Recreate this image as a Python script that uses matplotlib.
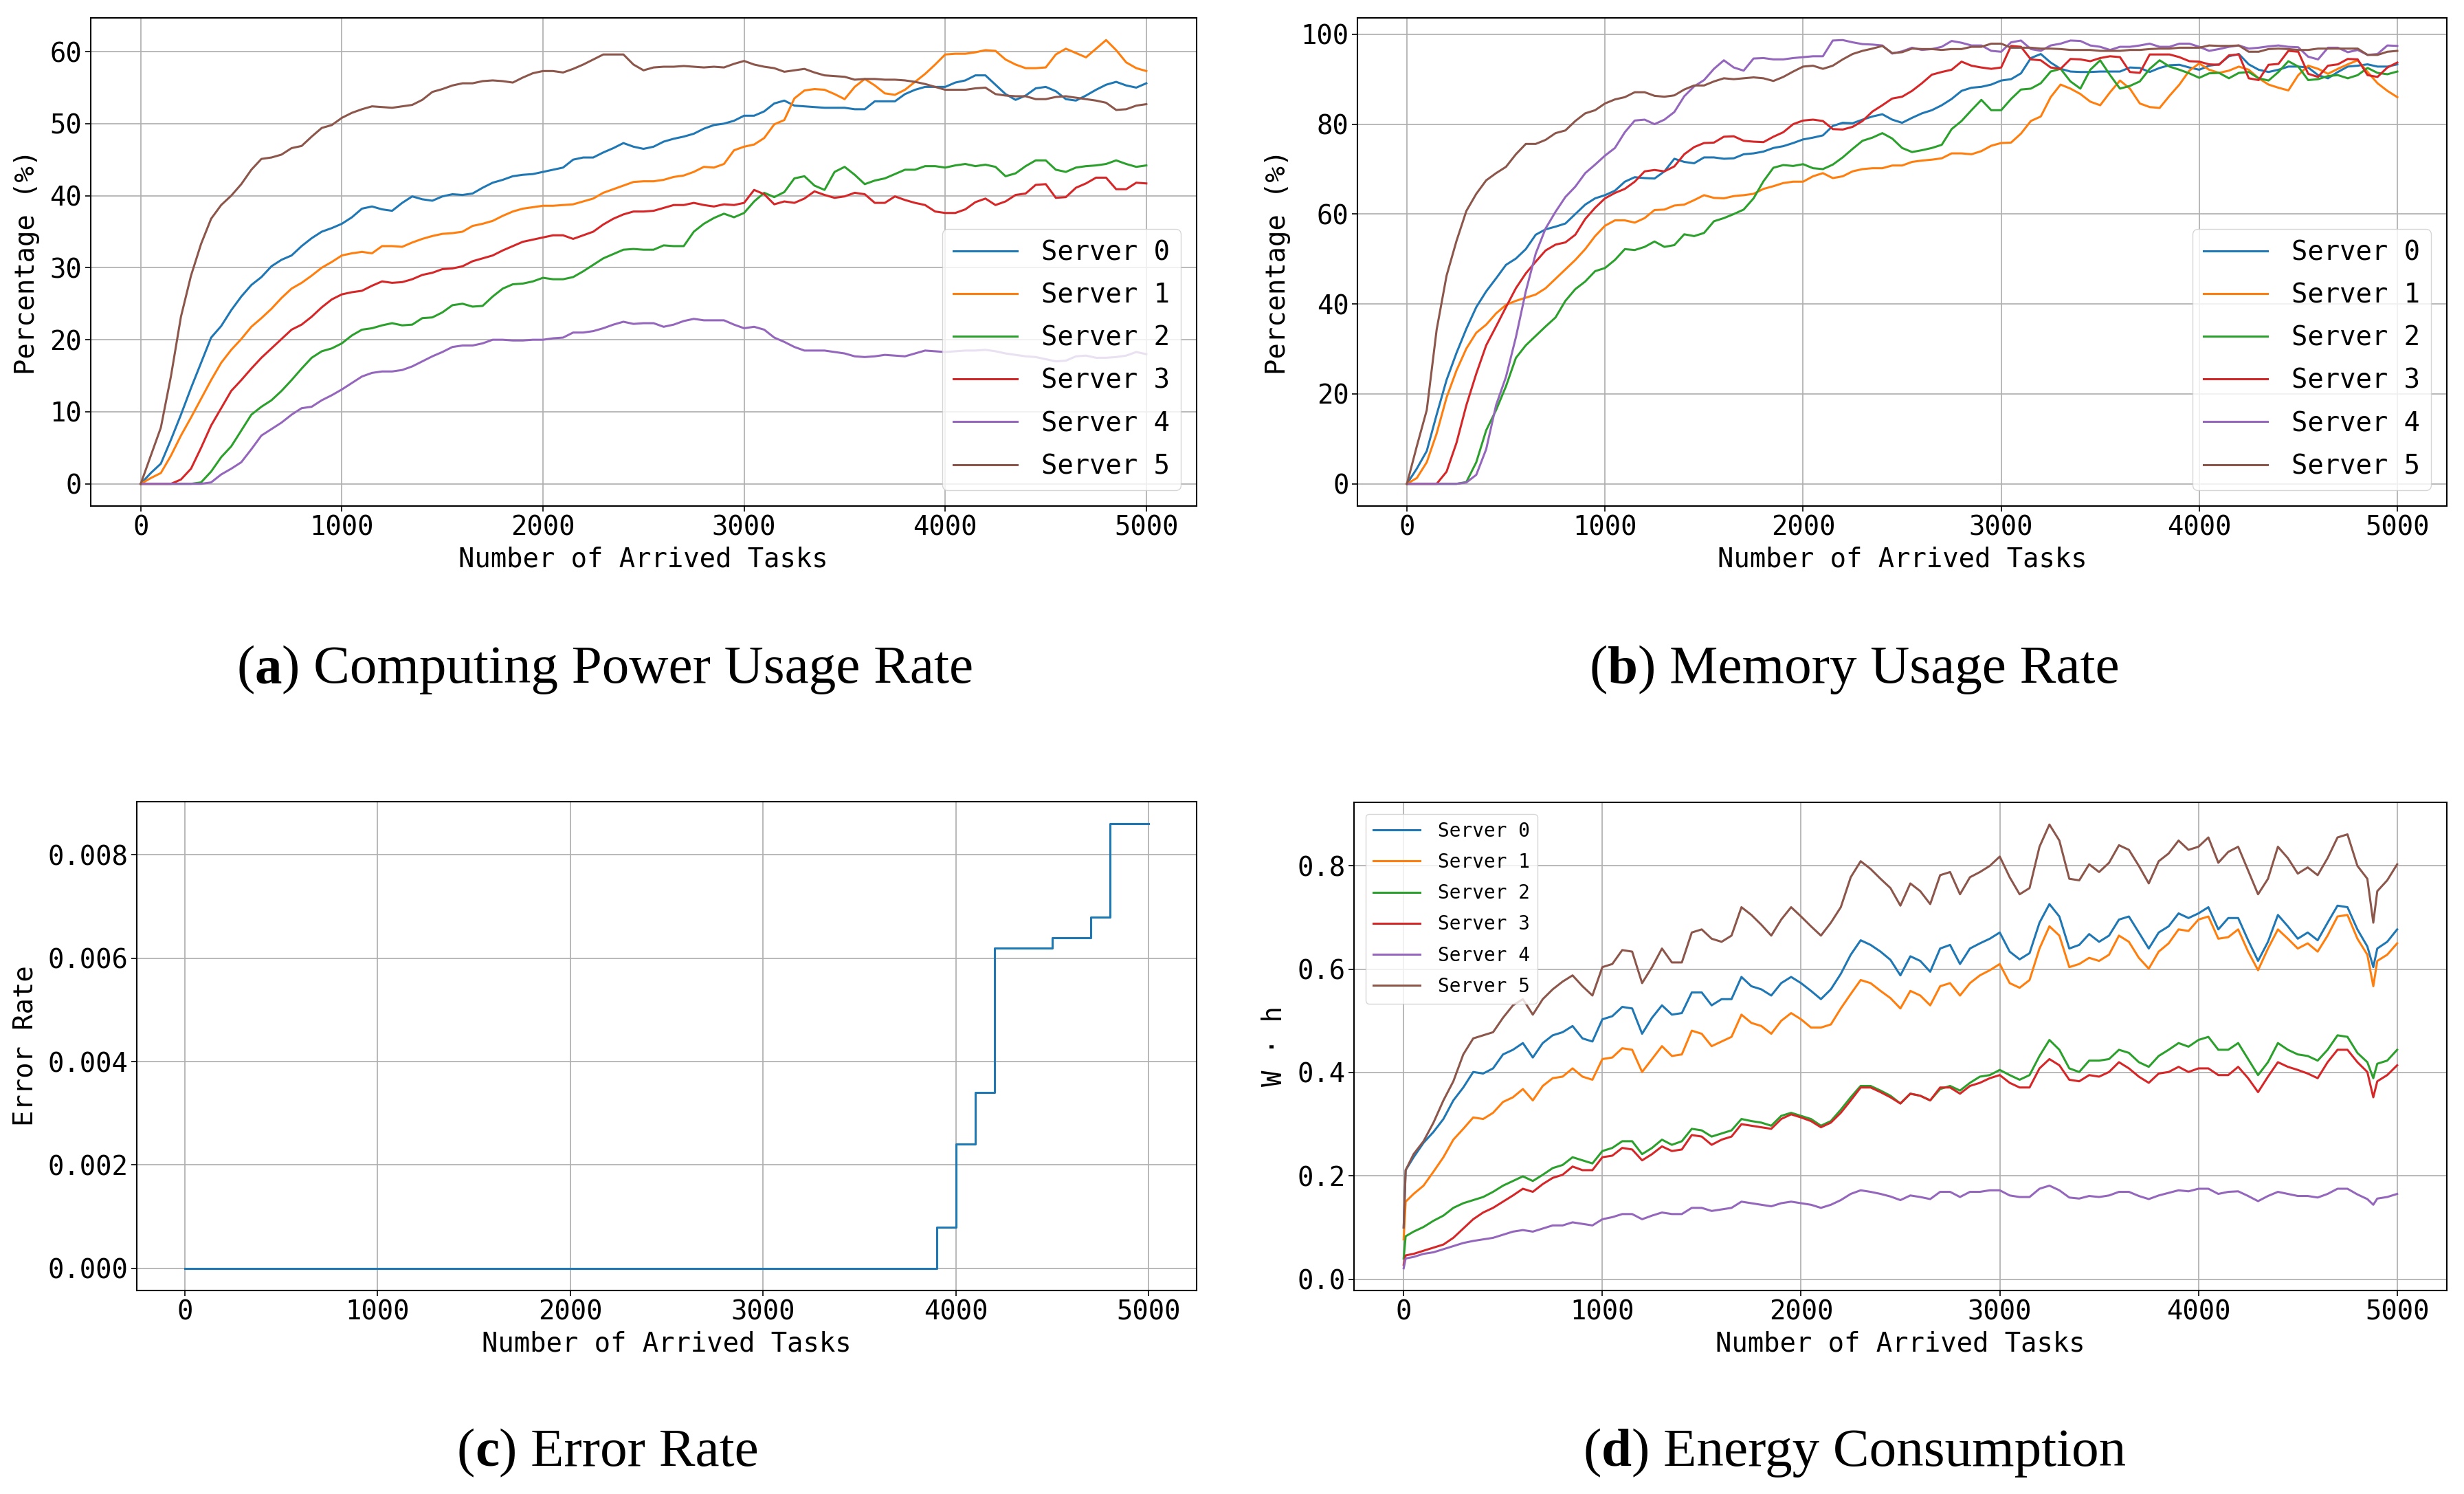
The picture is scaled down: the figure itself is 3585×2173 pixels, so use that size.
import numpy as np
import matplotlib
matplotlib.use('Agg')
import matplotlib.pyplot as plt

# ---------------- data ----------------
tasks = np.arange(0, 5001, 50)  # 101 sample points
servers = ['Server 0', 'Server 1', 'Server 2', 'Server 3', 'Server 4', 'Server 5']

cpu_s0 = [0, 1.5, 2.8, 6.1, 9.6, 13.3, 16.8, 20.3, 21.9, 24.1,
          26.0, 27.6, 28.7, 30.2, 31.1, 31.7, 33.0, 34.1, 35.0, 35.5,
          36.1, 37.0, 38.2, 38.5, 38.1, 37.9, 39.0, 39.9, 39.5, 39.3,
          39.9, 40.2, 40.1, 40.3, 41.1, 41.8, 42.2, 42.7, 42.9, 43.0,
          43.3, 43.6, 43.9, 45.0, 45.3, 45.3, 46.0, 46.6, 47.3, 46.8,
          46.5, 46.8, 47.5, 47.9, 48.2, 48.6, 49.3, 49.8, 50.0, 50.4,
          51.1, 51.1, 51.7, 52.8, 53.2, 52.5, 52.4, 52.3, 52.2, 52.2,
          52.2, 52.0, 52.0, 53.1, 53.1, 53.1, 54.1, 54.7, 55.1, 55.1,
          55.1, 55.7, 56.0, 56.7, 56.7, 55.4, 54.1, 53.3, 53.9, 54.9,
          55.1, 54.5, 53.4, 53.2, 53.9, 54.7, 55.4, 55.8, 55.3, 55.0,
          55.6]
cpu_s1 = [0, 0.8, 1.5, 3.9, 6.7, 9.2, 11.8, 14.4, 16.8, 18.6,
          20.1, 21.8, 23.0, 24.3, 25.8, 27.1, 27.9, 28.9, 30.0, 30.8,
          31.7, 32.0, 32.2, 32.0, 33.0, 33.0, 32.9, 33.5, 34.0, 34.4,
          34.7, 34.8, 35.0, 35.8, 36.1, 36.5, 37.2, 37.8, 38.2, 38.4,
          38.6, 38.6, 38.7, 38.8, 39.2, 39.6, 40.4, 40.9, 41.4, 41.9,
          42.0, 42.0, 42.2, 42.6, 42.8, 43.3, 44.0, 43.9, 44.4, 46.3,
          46.8, 47.1, 48.0, 49.9, 50.5, 53.5, 54.6, 54.8, 54.7, 54.1,
          53.4, 55.1, 56.2, 55.3, 54.2, 54.0, 54.7, 55.8, 56.9, 58.2,
          59.6, 59.7, 59.7, 59.9, 60.2, 60.1, 58.9, 58.2, 57.7, 57.7,
          57.8, 59.6, 60.4, 59.8, 59.2, 60.4, 61.6, 60.2, 58.5, 57.7,
          57.3]
cpu_s2 = [0, 0, 0, 0, 0, 0, 0.2, 1.7, 3.7, 5.2,
          7.4, 9.6, 10.7, 11.6, 12.9, 14.4, 16.0, 17.5, 18.4, 18.8,
          19.5, 20.6, 21.4, 21.6, 22.0, 22.3, 22.0, 22.1, 23.0, 23.1,
          23.8, 24.8, 25.0, 24.6, 24.7, 26.0, 27.1, 27.7, 27.8, 28.1,
          28.6, 28.4, 28.4, 28.7, 29.5, 30.4, 31.3, 31.9, 32.5, 32.6,
          32.5, 32.5, 33.1, 33.0, 33.0, 35.0, 36.1, 36.9, 37.5, 37.0,
          37.6, 39.2, 40.4, 39.8, 40.5, 42.4, 42.7, 41.4, 40.8, 43.3,
          44.0, 42.9, 41.6, 42.1, 42.4, 43.0, 43.6, 43.6, 44.1, 44.1,
          43.9, 44.2, 44.4, 44.1, 44.3, 44.0, 42.7, 43.1, 44.1, 44.9,
          44.9, 43.6, 43.3, 43.9, 44.1, 44.2, 44.4, 44.9, 44.4, 44.0,
          44.2]
cpu_s3 = [0, 0, 0, 0, 0.6, 2.1, 5.0, 8.1, 10.5, 12.9,
          14.4, 16.0, 17.5, 18.8, 20.1, 21.4, 22.1, 23.2, 24.5, 25.6,
          26.3, 26.6, 26.8, 27.5, 28.1, 27.9, 28.0, 28.4, 29.0, 29.3,
          29.8, 29.9, 30.2, 30.9, 31.3, 31.7, 32.4, 33.0, 33.6, 33.9,
          34.2, 34.5, 34.5, 34.0, 34.5, 35.0, 36.0, 36.8, 37.4, 37.8,
          37.8, 37.9, 38.3, 38.7, 38.7, 39.0, 38.7, 38.5, 38.8, 38.7,
          39.0, 40.8, 40.2, 38.8, 39.2, 39.0, 39.6, 40.6, 40.1, 39.7,
          39.9, 40.4, 40.2, 39.0, 39.0, 39.9, 39.4, 39.0, 38.7, 37.8,
          37.6, 37.6, 38.1, 39.1, 39.6, 38.7, 39.2, 40.1, 40.3, 41.5,
          41.6, 39.7, 39.8, 41.1, 41.7, 42.5, 42.5, 40.9, 40.9, 41.8,
          41.7]
cpu_s4 = [0, 0, 0, 0, 0, 0, 0, 0.2, 1.3, 2.1,
          3.0, 4.8, 6.7, 7.6, 8.5, 9.6, 10.5, 10.7, 11.6, 12.3,
          13.1, 14.0, 14.9, 15.4, 15.6, 15.6, 15.8, 16.3, 17.0, 17.7,
          18.3, 19.0, 19.2, 19.2, 19.5, 20.0, 20.0, 19.9, 19.9, 20.0,
          20.0, 20.2, 20.3, 21.0, 21.0, 21.2, 21.6, 22.1, 22.5, 22.2,
          22.3, 22.3, 21.8, 22.1, 22.6, 22.9, 22.7, 22.7, 22.7, 22.1,
          21.6, 21.8, 21.4, 20.3, 19.7, 19.0, 18.5, 18.5, 18.5, 18.3,
          18.1, 17.7, 17.6, 17.7, 17.9, 17.8, 17.7, 18.1, 18.5, 18.4,
          18.3, 18.4, 18.5, 18.5, 18.6, 18.4, 18.1, 17.9, 17.7, 17.6,
          17.3, 17.0, 17.1, 17.7, 17.8, 17.5, 17.5, 17.6, 17.8, 18.3,
          18.0]
cpu_s5 = [0, 3.9, 7.8, 14.9, 23.2, 28.9, 33.3, 36.8, 38.7, 40.0,
          41.6, 43.6, 45.1, 45.3, 45.7, 46.6, 46.9, 48.2, 49.4, 49.8,
          50.8, 51.5, 52.0, 52.4, 52.3, 52.2, 52.4, 52.6, 53.3, 54.4,
          54.8, 55.3, 55.6, 55.6, 55.9, 56.0, 55.9, 55.7, 56.4, 57.0,
          57.3, 57.3, 57.1, 57.6, 58.2, 58.9, 59.6, 59.6, 59.6, 58.2,
          57.4, 57.8, 57.9, 57.9, 58.0, 57.9, 57.8, 57.9, 57.8, 58.3,
          58.7, 58.2, 57.9, 57.7, 57.2, 57.4, 57.6, 57.1, 56.7, 56.6,
          56.5, 56.1, 56.2, 56.2, 56.1, 56.1, 56.0, 55.8, 55.5, 55.1,
          54.7, 54.7, 54.7, 54.9, 55.0, 54.1, 53.9, 53.8, 53.8, 53.4,
          53.4, 53.7, 53.8, 53.6, 53.4, 53.2, 52.9, 51.9, 52.0, 52.5,
          52.7]

mem_s0 = [0, 3.4, 7.3, 15.4, 23.1, 29.1, 34.5, 39.3, 42.8, 45.7,
          48.7, 50.1, 52.2, 55.4, 56.6, 57.2, 57.9, 60.0, 62.1, 63.5,
          64.2, 65.2, 67.2, 68.2, 68.0, 67.9, 69.5, 72.3, 71.6, 71.3,
          72.6, 72.6, 72.3, 72.4, 73.3, 73.5, 73.9, 74.7, 75.1, 75.8,
          76.6, 77.0, 77.5, 79.6, 80.3, 80.2, 81.0, 81.7, 82.2, 81.0,
          80.3, 81.4, 82.4, 83.1, 84.2, 85.6, 87.4, 88.1, 88.3, 88.8,
          89.7, 90.0, 91.3, 94.7, 95.6, 93.7, 92.3, 91.7, 91.6, 91.6,
          91.7, 91.7, 91.7, 92.6, 92.5, 91.6, 92.5, 93.1, 93.2, 92.6,
          92.1, 93.0, 93.3, 95.1, 95.6, 93.3, 92.1, 91.6, 92.1, 92.8,
          92.8, 92.6, 90.9, 90.2, 91.6, 92.8, 93.0, 93.3, 92.8, 92.8,
          93.3]
mem_s1 = [0, 1.3, 4.8, 11.2, 19.2, 25.2, 30.1, 33.6, 35.4, 37.9,
          39.8, 40.7, 41.4, 42.1, 43.5, 45.6, 47.7, 49.8, 52.2, 55.1,
          57.4, 58.6, 58.6, 58.1, 59.1, 60.9, 61.0, 61.9, 62.1, 63.1,
          64.2, 63.6, 63.5, 64.0, 64.2, 64.5, 65.6, 66.2, 66.9, 67.2,
          67.2, 68.4, 69.1, 68.0, 68.4, 69.5, 70.0, 70.2, 70.2, 70.8,
          70.8, 71.6, 71.9, 72.1, 72.4, 73.5, 73.5, 73.3, 74.0, 75.2,
          75.8, 75.9, 77.9, 80.7, 81.7, 86.0, 88.8, 87.9, 86.7, 85.0,
          84.2, 87.1, 89.7, 87.9, 84.6, 83.8, 83.6, 86.3, 88.8, 91.9,
          93.5, 92.1, 91.4, 91.9, 92.8, 92.1, 90.2, 88.8, 88.1, 87.5,
          90.9, 93.0, 92.3, 91.2, 92.3, 93.3, 94.2, 91.6, 89.1, 87.4,
          86.0]
mem_s2 = [0, 0, 0, 0, 0, 0, 0.4, 4.8, 11.9, 16.4,
          21.7, 28.0, 30.8, 32.9, 35.0, 37.0, 40.7, 43.3, 45.0, 47.3,
          48.0, 49.8, 52.2, 52.0, 52.7, 53.9, 52.7, 53.1, 55.5, 55.1,
          55.8, 58.4, 59.1, 60.0, 61.0, 63.5, 67.3, 70.3, 70.9, 70.7,
          71.1, 70.2, 70.0, 71.0, 72.6, 74.5, 76.3, 77.0, 78.0, 76.8,
          74.7, 73.8, 74.2, 74.7, 75.4, 78.9, 80.7, 83.1, 85.4, 83.1,
          83.1, 85.6, 87.7, 87.9, 89.1, 91.7, 92.3, 89.5, 87.9, 92.1,
          94.2, 90.9, 87.9, 88.5, 89.5, 92.3, 94.2, 92.8, 92.1, 91.3,
          90.3, 91.3, 91.4, 90.2, 91.4, 91.6, 90.2, 89.7, 91.6, 94.0,
          92.8, 89.8, 90.0, 90.7, 90.9, 90.2, 90.9, 92.5, 91.4, 91.1,
          91.7]
mem_s3 = [0, 0, 0, 0, 2.7, 9.1, 17.5, 24.5, 30.8, 35.0,
          39.3, 43.5, 46.8, 49.4, 51.9, 53.2, 53.7, 55.4, 58.9, 61.4,
          63.5, 64.7, 65.6, 67.2, 69.5, 69.8, 69.5, 70.6, 73.3, 74.9,
          75.8, 75.9, 77.2, 77.3, 76.3, 76.1, 76.0, 77.2, 78.2, 80.0,
          80.8, 81.0, 80.7, 78.9, 78.8, 79.4, 80.7, 82.8, 84.2, 85.7,
          86.1, 87.4, 89.1, 91.0, 91.6, 92.1, 93.9, 93.0, 92.6, 92.3,
          92.6, 97.4, 97.2, 94.4, 94.2, 92.6, 92.3, 94.5, 94.4, 94.0,
          94.7, 95.1, 94.9, 91.6, 91.4, 95.5, 95.5, 95.5, 94.9, 94.0,
          93.9, 93.3, 93.2, 95.3, 95.5, 90.2, 89.8, 93.2, 93.4, 96.3,
          96.1, 91.2, 90.5, 93.0, 93.3, 94.5, 94.4, 90.9, 90.5, 92.6,
          93.7]
mem_s4 = [0, 0, 0, 0, 0, 0, 0.3, 2.0, 7.7, 17.5,
          23.8, 32.6, 42.8, 51.2, 56.8, 60.5, 63.8, 66.1, 69.1, 71.0,
          73.0, 74.7, 78.2, 80.8, 81.0, 80.0, 81.0, 82.7, 86.2, 88.4,
          89.8, 92.3, 94.2, 92.6, 91.9, 94.6, 94.7, 94.4, 94.4, 94.7,
          94.9, 95.1, 95.1, 98.6, 98.7, 98.2, 97.8, 97.7, 97.5, 95.7,
          96.2, 97.0, 96.5, 96.7, 97.2, 98.5, 98.1, 97.5, 97.5, 96.3,
          96.1, 98.2, 98.6, 96.7, 96.3, 97.5, 97.9, 98.6, 98.5, 97.5,
          97.2, 96.5, 97.2, 97.2, 97.5, 97.9, 97.2, 97.2, 97.9, 97.9,
          97.2, 96.3, 96.7, 97.2, 97.5, 96.8, 97.0, 97.3, 97.5, 97.2,
          97.1, 95.0, 94.4, 97.0, 97.0, 96.0, 96.5, 95.4, 95.6, 97.5,
          97.4]
mem_s5 = [0, 8.4, 16.4, 34.3, 46.3, 54.0, 60.7, 64.5, 67.5, 69.1,
          70.5, 73.3, 75.6, 75.6, 76.5, 78.0, 78.6, 80.7, 82.4, 83.1,
          84.6, 85.5, 86.0, 87.1, 87.1, 86.3, 86.1, 86.4, 87.7, 88.6,
          88.6, 89.5, 90.2, 90.0, 90.2, 90.4, 90.2, 89.6, 90.5, 91.7,
          92.8, 93.0, 92.3, 93.0, 94.4, 95.6, 96.3, 96.8, 97.4, 95.8,
          96.0, 96.8, 96.7, 96.7, 96.5, 96.7, 96.7, 97.2, 97.2, 97.9,
          97.9, 97.0, 97.0, 97.0, 96.8, 96.8, 96.7, 96.5, 96.5, 96.5,
          96.3, 96.3, 96.3, 96.5, 96.5, 96.7, 96.8, 96.8, 97.0, 97.0,
          97.0, 97.5, 97.4, 97.4, 97.5, 96.1, 96.1, 96.7, 96.8, 96.7,
          96.5, 96.5, 96.8, 96.8, 96.8, 96.8, 96.8, 95.4, 95.4, 96.1,
          96.3]

err_x = [0, 3900, 4000, 4100, 4200, 4500, 4700, 4800, 5000]
err_y = [0.0, 0.0008, 0.0024, 0.0034, 0.0062, 0.0064, 0.0068, 0.0086, 0.0086]

energy_x = [0, 10] + list(range(50, 4851, 50)) + [4880, 4900, 4950, 5000]
eng_s0 = [0.100, 0.211,
          0.236, 0.264, 0.285, 0.310, 0.346, 0.371, 0.401, 0.398, 0.408, 0.435,
          0.444, 0.457, 0.429, 0.457, 0.472, 0.478, 0.490, 0.466, 0.460, 0.503,
          0.509, 0.527, 0.524, 0.475, 0.506, 0.530, 0.512, 0.515, 0.555, 0.555,
          0.530, 0.542, 0.542, 0.585, 0.567, 0.561, 0.549, 0.573, 0.585, 0.573,
          0.558, 0.542, 0.561, 0.591, 0.628, 0.656, 0.647, 0.634, 0.618, 0.588,
          0.625, 0.616, 0.595, 0.640, 0.647, 0.610, 0.640, 0.650, 0.659, 0.671,
          0.634, 0.619, 0.631, 0.690, 0.726, 0.702, 0.640, 0.647, 0.668, 0.653,
          0.665, 0.696, 0.702, 0.671, 0.640, 0.671, 0.683, 0.708, 0.699, 0.708,
          0.720, 0.677, 0.699, 0.699, 0.656, 0.616, 0.653, 0.705, 0.683, 0.659,
          0.671, 0.656, 0.690, 0.723, 0.720, 0.677, 0.644,
          0.604, 0.640, 0.653, 0.677]
eng_s1 = [0.077, 0.150,
          0.165, 0.181, 0.208, 0.236, 0.270, 0.291, 0.313, 0.310, 0.322, 0.343,
          0.352, 0.368, 0.346, 0.374, 0.389, 0.392, 0.408, 0.392, 0.386, 0.426,
          0.429, 0.447, 0.444, 0.401, 0.426, 0.451, 0.432, 0.435, 0.481, 0.475,
          0.451, 0.460, 0.469, 0.512, 0.496, 0.490, 0.475, 0.500, 0.515, 0.503,
          0.487, 0.487, 0.493, 0.524, 0.552, 0.579, 0.573, 0.558, 0.544, 0.524,
          0.558, 0.549, 0.530, 0.567, 0.573, 0.549, 0.573, 0.588, 0.598, 0.610,
          0.573, 0.564, 0.579, 0.640, 0.683, 0.665, 0.604, 0.610, 0.622, 0.616,
          0.628, 0.665, 0.653, 0.622, 0.601, 0.634, 0.650, 0.677, 0.674, 0.696,
          0.702, 0.659, 0.662, 0.677, 0.634, 0.598, 0.640, 0.677, 0.659, 0.640,
          0.650, 0.634, 0.665, 0.702, 0.705, 0.659, 0.628,
          0.567, 0.616, 0.628, 0.650]
eng_s2 = [0.040, 0.083,
          0.092, 0.101, 0.113, 0.123, 0.138, 0.147, 0.153, 0.159, 0.169, 0.181,
          0.190, 0.199, 0.190, 0.202, 0.215, 0.221, 0.236, 0.230, 0.224, 0.248,
          0.254, 0.267, 0.267, 0.242, 0.254, 0.270, 0.260, 0.267, 0.291, 0.288,
          0.276, 0.282, 0.288, 0.310, 0.306, 0.303, 0.297, 0.316, 0.322, 0.316,
          0.310, 0.297, 0.306, 0.328, 0.352, 0.374, 0.374, 0.365, 0.355, 0.340,
          0.359, 0.355, 0.346, 0.368, 0.374, 0.365, 0.380, 0.392, 0.395, 0.405,
          0.395, 0.386, 0.395, 0.432, 0.463, 0.444, 0.408, 0.401, 0.423, 0.423,
          0.426, 0.444, 0.438, 0.420, 0.411, 0.432, 0.444, 0.457, 0.450, 0.463,
          0.469, 0.444, 0.444, 0.457, 0.426, 0.395, 0.420, 0.457, 0.444, 0.435,
          0.432, 0.423, 0.444, 0.472, 0.469, 0.438, 0.420,
          0.389, 0.417, 0.423, 0.444]
eng_s3 = [0.028, 0.046,
          0.049, 0.055, 0.061, 0.067, 0.080, 0.098, 0.116, 0.129, 0.138, 0.150,
          0.162, 0.175, 0.169, 0.184, 0.196, 0.202, 0.218, 0.211, 0.211, 0.236,
          0.239, 0.254, 0.251, 0.230, 0.242, 0.257, 0.248, 0.251, 0.279, 0.276,
          0.260, 0.270, 0.276, 0.300, 0.297, 0.294, 0.291, 0.310, 0.319, 0.313,
          0.306, 0.294, 0.303, 0.322, 0.346, 0.371, 0.371, 0.362, 0.352, 0.340,
          0.359, 0.355, 0.346, 0.371, 0.371, 0.359, 0.374, 0.380, 0.389, 0.395,
          0.380, 0.371, 0.371, 0.408, 0.426, 0.414, 0.386, 0.383, 0.395, 0.392,
          0.401, 0.420, 0.408, 0.392, 0.380, 0.398, 0.401, 0.411, 0.401, 0.408,
          0.408, 0.395, 0.395, 0.411, 0.389, 0.362, 0.392, 0.420, 0.411, 0.405,
          0.398, 0.389, 0.420, 0.444, 0.444, 0.420, 0.401,
          0.352, 0.383, 0.395, 0.414]
eng_s4 = [0.021, 0.040,
          0.043, 0.049, 0.052, 0.058, 0.064, 0.070, 0.074, 0.077, 0.080, 0.086,
          0.092, 0.095, 0.092, 0.098, 0.104, 0.104, 0.110, 0.107, 0.104, 0.116,
          0.120, 0.126, 0.126, 0.116, 0.123, 0.129, 0.126, 0.126, 0.138, 0.138,
          0.132, 0.135, 0.138, 0.150, 0.147, 0.144, 0.141, 0.147, 0.150, 0.147,
          0.144, 0.138, 0.144, 0.153, 0.165, 0.172, 0.169, 0.165, 0.160, 0.153,
          0.162, 0.159, 0.155, 0.169, 0.169, 0.159, 0.169, 0.169, 0.172, 0.172,
          0.162, 0.159, 0.159, 0.175, 0.181, 0.172, 0.158, 0.156, 0.161, 0.159,
          0.162, 0.169, 0.169, 0.161, 0.155, 0.162, 0.167, 0.172, 0.170, 0.175,
          0.175, 0.165, 0.169, 0.170, 0.161, 0.151, 0.161, 0.169, 0.165, 0.161,
          0.161, 0.158, 0.165, 0.175, 0.175, 0.164, 0.155,
          0.144, 0.156, 0.159, 0.165]
eng_s5 = [0.100, 0.211,
          0.242, 0.267, 0.303, 0.346, 0.383, 0.435, 0.466, 0.472, 0.478, 0.506,
          0.530, 0.542, 0.512, 0.542, 0.561, 0.576, 0.588, 0.567, 0.549, 0.604,
          0.610, 0.637, 0.634, 0.573, 0.604, 0.640, 0.613, 0.613, 0.671, 0.677,
          0.659, 0.653, 0.665, 0.720, 0.705, 0.686, 0.665, 0.696, 0.720, 0.702,
          0.683, 0.665, 0.690, 0.720, 0.778, 0.809, 0.794, 0.775, 0.757, 0.723,
          0.766, 0.751, 0.726, 0.782, 0.788, 0.745, 0.778, 0.788, 0.800, 0.818,
          0.778, 0.745, 0.757, 0.837, 0.880, 0.849, 0.775, 0.772, 0.803, 0.788,
          0.806, 0.840, 0.831, 0.800, 0.766, 0.809, 0.824, 0.849, 0.831, 0.837,
          0.855, 0.806, 0.827, 0.837, 0.791, 0.745, 0.775, 0.837, 0.815, 0.785,
          0.797, 0.782, 0.815, 0.855, 0.861, 0.800, 0.775,
          0.690, 0.751, 0.772, 0.803]

cpu = [cpu_s0, cpu_s1, cpu_s2, cpu_s3, cpu_s4, cpu_s5]
mem = [mem_s0, mem_s1, mem_s2, mem_s3, mem_s4, mem_s5]
eng = [eng_s0, eng_s1, eng_s2, eng_s3, eng_s4, eng_s5]

x_ticks = [0, 1000, 2000, 3000, 4000, 5000]
captions = [('a', 'Computing Power Usage Rate'), ('b', 'Memory Usage Rate'),
            ('c', 'Error Rate'), ('d', 'Energy Consumption')]

# ---------------- style ----------------
W, H, DPI = 3585, 2173, 100
plt.rcParams.update({
    'font.family': ['DejaVu Sans Mono'],
    'font.size': 28,
    'axes.linewidth': 1.5,
    'xtick.major.size': 5.5, 'ytick.major.size': 5.5,
    'xtick.major.width': 1.2, 'ytick.major.width': 1.2,
    'grid.linewidth': 1.25, 'grid.color': '#b0b0b0',
    'lines.linewidth': 2.2,
})
colors = ['#1f77b4', '#ff7f0e', '#2ca02c', '#d62728', '#9467bd', '#8c564b']

fig = plt.figure(figsize=(W / DPI, H / DPI), dpi=DPI)


def rect(l, r, t, b):
    return [l / W, 1 - b / H, (r - l) / W, (b - t) / H]


ax_a = fig.add_axes(rect(131.6, 1741, 26, 736))
ax_b = fig.add_axes(rect(1975, 3560, 26, 736))
ax_c = fig.add_axes(rect(199, 1741, 1166, 1877))
ax_d = fig.add_axes(rect(1970, 3560, 1167, 1877))

for i in range(6):
    ax_a.plot(tasks, cpu[i], color=colors[i], label=servers[i])
    ax_b.plot(tasks, mem[i], color=colors[i], label=servers[i])
    ax_d.plot(energy_x, eng[i], color=colors[i], label=servers[i])
ax_c.plot(err_x, err_y, color=colors[0], drawstyle='steps-post')

ax_a.set_yticks([0, 10, 20, 30, 40, 50, 60])
ax_b.set_yticks([0, 20, 40, 60, 80, 100])
ax_c.set_yticks([0.0, 0.002, 0.004, 0.006, 0.008])
ax_c.set_yticklabels(['0.000', '0.002', '0.004', '0.006', '0.008'])
ax_d.set_yticks([0.0, 0.2, 0.4, 0.6, 0.8])
ax_d.set_yticklabels(['0.0', '0.2', '0.4', '0.6', '0.8'])

for ax in (ax_a, ax_b, ax_c, ax_d):
    ax.set_xticks(x_ticks)
    ax.grid(True)
    ax.set_xlabel('Number of Arrived Tasks', labelpad=6)

ax_a.set_ylabel('Percentage (%)', labelpad=10)
ax_b.set_ylabel('Percentage (%)', labelpad=10)
ax_c.set_ylabel('Error Rate', labelpad=10)
ax_d.set_ylabel('W · h', labelpad=10)

leg_kw = dict(handlelength=2.4, handletextpad=0.9, labelspacing=0.62, borderaxespad=0.6)
ax_a.legend(loc='lower right', fontsize=28, **leg_kw)
ax_b.legend(loc='lower right', fontsize=28, **leg_kw)
ax_d.legend(loc='upper left', fontsize=20, handlelength=2.45, handletextpad=0.93,
            labelspacing=0.62, borderaxespad=0.6)

# ---------------- captions ----------------
renderer = fig.canvas.get_renderer()
cap_pos = [(880, 993), (2698, 993), (884, 2132), (2698, 2132)]
for (letter, title), (xc, yb) in zip(captions, cap_pos):
    parts = [('(', 'normal'), (letter, 'bold'), (') ' + title, 'normal')]
    objs = []
    for s, wgt in parts:
        t = fig.text(0, 1 - yb / H, s, fontsize=57, family='Liberation Serif',
                     fontweight=wgt, ha='left', va='baseline')
        objs.append(t)
    widths = [t.get_window_extent(renderer).width for t in objs]
    x = xc - sum(widths) / 2
    for t, w in zip(objs, widths):
        t.set_x(x / W)
        x += w

fig.savefig('out.png', dpi=DPI)
